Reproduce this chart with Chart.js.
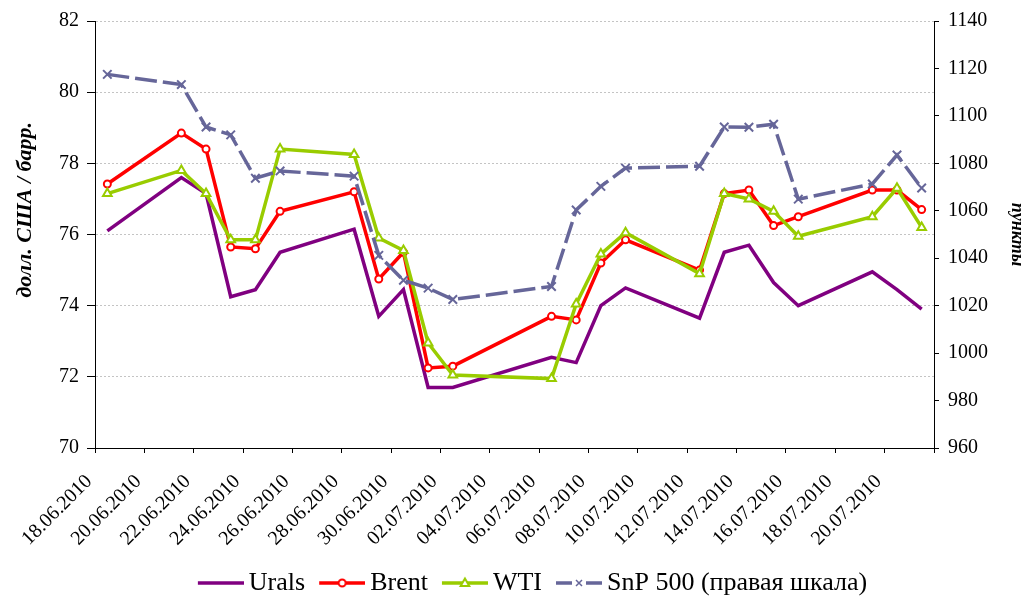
<!DOCTYPE html>
<html>
<head>
<meta charset="utf-8">
<title>Urals, Brent, WTI, SnP 500</title>
<script src="https://cdn.jsdelivr.net/npm/chart.js@4.4.1/dist/chart.umd.min.js"></script>
<style>
  body { margin: 0; background: #fff; }
  #wrap { width: 1025px; height: 597px; position: relative; }
</style>
</head>
<body>
<div id="wrap"><canvas id="oil-chart"></canvas></div>
<script>
// --- Data ---
const tradeDates = ['18.06.2010', '21.06.2010', '22.06.2010', '23.06.2010', '24.06.2010', '25.06.2010',
    '28.06.2010', '29.06.2010', '30.06.2010', '01.07.2010', '02.07.2010', '06.07.2010', '07.07.2010',
    '08.07.2010', '09.07.2010', '12.07.2010', '13.07.2010', '14.07.2010', '15.07.2010', '16.07.2010',
    '19.07.2010', '20.07.2010', '21.07.2010'];
const urals = [76.1, 77.6, 77.15, 74.25, 74.45, 75.5, 76.15, 73.7, 74.45, 71.7, 71.7, 72.55, 72.4,
    74.0, 74.5, 73.65, 75.5, 75.7, 74.65, 74.0, 74.95, 74.45, 73.9];
const brent = [77.42, 78.85, 78.4, 75.65, 75.6, 76.65, 77.2, 74.75, 75.5, 72.25, 72.3, 73.7, 73.6,
    75.2, 75.85, 75.0, 77.15, 77.25, 76.25, 76.5, 77.25, 77.25, 76.7];
const wti = [77.15, 77.8, 77.15, 75.85, 75.85, 78.4, 78.25, 75.9, 75.55, 72.95, 72.05, 71.95, 74.05,
    75.45, 76.05, 74.9, 77.15, 77.0, 76.65, 75.95, 76.5, 77.3, 76.2];
const snp = [1117.5, 1113.2, 1095.3, 1092.0, 1073.7, 1076.8, 1074.6, 1041.2, 1030.7, 1027.4, 1022.6,
    1028.1, 1060.3, 1070.3, 1078.0, 1078.8, 1095.3, 1095.2, 1096.5, 1064.9, 1071.3, 1083.5, 1069.6];
const tickLabels = ['18.06.2010', '20.06.2010', '22.06.2010', '24.06.2010', '26.06.2010', '28.06.2010',
    '30.06.2010', '02.07.2010', '04.07.2010', '06.07.2010', '08.07.2010', '10.07.2010', '12.07.2010',
    '14.07.2010', '16.07.2010', '18.07.2010', '20.07.2010'];

// --- Helpers ---
const FONT = '"Liberation Serif", "Times New Roman", serif';
const DAY_MS = 86400000;
function dayNumber(str) {
    const [d, m, y] = str.split('.').map(Number);
    return Date.UTC(y, m - 1, d) / DAY_MS;
}
// each day is one slot on the axis, points sit in the middle of the slot (like Excel date axis)
const firstDay = dayNumber(tickLabels[0]);
const xs = tradeDates.map(s => dayNumber(s) - firstDay + 0.5);
const xMax = Math.ceil(xs[xs.length - 1]);
const toPoints = vals => vals.map((v, i) => ({ x: xs[i], y: v }));

// legend swatch: line with the series marker; blank strip on the left keeps the line close to its text
function legendIcon(color, marker, gapAroundMarker) {
    const c = document.createElement('canvas');
    c.width = 60; c.height = 14;
    const g = c.getContext('2d');
    const x0 = 14, mid = 37;
    g.strokeStyle = color;
    g.lineWidth = 3.5;
    g.beginPath();
    if (gapAroundMarker) {
        g.moveTo(x0, 7); g.lineTo(mid - 7, 7);
        g.moveTo(mid + 7, 7); g.lineTo(60, 7);
    } else {
        g.moveTo(x0, 7); g.lineTo(60, 7);
    }
    g.stroke();
    g.lineWidth = 2;
    g.fillStyle = '#fff';
    if (marker === 'circle') {
        g.beginPath(); g.arc(mid, 7, 3.5, 0, Math.PI * 2); g.fill(); g.stroke();
    } else if (marker === 'triangle') {
        g.beginPath(); g.moveTo(mid, 2.5); g.lineTo(mid + 4.3, 10); g.lineTo(mid - 4.3, 10); g.closePath(); g.fill(); g.stroke();
    } else if (marker === 'cross') {
        g.lineWidth = 1.5;
        g.beginPath(); g.moveTo(mid - 3, 4); g.lineTo(mid + 3, 10); g.moveTo(mid + 3, 4); g.lineTo(mid - 3, 10); g.stroke();
    }
    return c;
}

// move the legend row to where the original has it (a bit lower and right of centre)
const legendNudge = {
    id: 'legendNudge',
    afterLayout(chart) {
        const lg = chart.legend;
        const dx = 17;
        const dy = 584 - (lg.top + lg.bottom) / 2;
        lg.left += dx; lg.right += dx;
        lg.top += dy; lg.bottom += dy;
    }
};

// --- Chart ---
Chart.defaults.font.family = FONT;
Chart.defaults.color = '#000';
Chart.defaults.animation = false;

const series = [
    { label: 'Urals', data: toPoints(urals), borderColor: '#800080', backgroundColor: '#800080',
      borderWidth: 3.5, pointRadius: 0, order: 4, yAxisID: 'y', icon: legendIcon('#800080', null) },
    { label: 'Brent', data: toPoints(brent), borderColor: '#ff0000', backgroundColor: '#fff',
      borderWidth: 3.5, pointStyle: 'circle', pointRadius: 3.5, pointBorderWidth: 2, order: 3, yAxisID: 'y',
      icon: legendIcon('#ff0000', 'circle') },
    { label: 'WTI', data: toPoints(wti), borderColor: '#99cc00', backgroundColor: '#fff',
      borderWidth: 3.5, pointStyle: 'triangle', pointRadius: 5, pointBorderWidth: 2, order: 2, yAxisID: 'y',
      icon: legendIcon('#99cc00', 'triangle') },
    { label: 'SnP 500 (правая шкала)', data: toPoints(snp), borderColor: '#666699', backgroundColor: '#666699',
      borderWidth: 3.5, borderDash: [22, 6], pointStyle: 'crossRot', pointRadius: 6, pointBorderWidth: 2,
      order: 1, yAxisID: 'y1', icon: legendIcon('#666699', 'cross', true) }
];

new Chart(document.getElementById('oil-chart'), {
    type: 'line',
    data: { datasets: series },
    plugins: [legendNudge],
    options: {
        responsive: true,
        maintainAspectRatio: false,
        layout: { padding: { top: 21, left: 0, right: 0, bottom: 0 } },
        elements: { line: { tension: 0 } },
        plugins: {
            tooltip: { enabled: false },
            legend: {
                position: 'bottom',
                labels: {
                    font: { family: FONT, size: 26 },
                    color: '#000',
                    usePointStyle: true,
                    pointStyleWidth: 44,
                    padding: 8,
                    generateLabels: chart => chart.data.datasets.map((ds, i) => ({
                        text: ds.label, pointStyle: ds.icon, fillStyle: ds.borderColor,
                        strokeStyle: ds.borderColor, lineWidth: 0, hidden: false, datasetIndex: i
                    }))
                }
            }
        },
        scales: {
            x: {
                type: 'linear',
                min: 0,
                max: xMax,
                afterFit: scale => { scale.height = 105; },
                grid: { drawOnChartArea: false, tickLength: 5, tickColor: '#000' },
                border: { color: '#000' },
                ticks: {
                    stepSize: 2, autoSkip: false, minRotation: 45, maxRotation: 45, padding: 17,
                    labelOffset: -6,
                    font: { family: FONT, size: 20 },
                    callback: v => tickLabels[v / 2] || ''
                }
            },
            y: {
                position: 'left',
                min: 70, max: 82,
                afterFit: scale => { scale.width = 95; },
                grid: {
                    color: ctx => ctx.tick && ctx.tick.value === 70 ? 'rgba(0,0,0,0)' : '#c4c4c4',
                    tickColor: '#000', tickLength: 8
                },
                border: { color: '#000', dash: [2, 2] },
                ticks: { stepSize: 2, padding: 8, font: { family: FONT, size: 20 } },
                title: {
                    display: true,
                    text: '         долл. США / барр.',
                    font: { family: FONT, size: 22, weight: 'bold', style: 'italic' },
                    padding: { top: 12, bottom: 0 }
                }
            },
            y1: {
                position: 'right',
                min: 960, max: 1140,
                afterFit: scale => { scale.width = 91; },
                grid: { drawOnChartArea: false, tickColor: '#000', tickLength: 5 },
                border: { color: '#000' },
                ticks: { stepSize: 20, padding: 9, font: { family: FONT, size: 20 }, callback: v => String(v) },
                title: {
                    display: true,
                    text: 'пункты',
                    font: { family: FONT, size: 18, weight: 'bold', style: 'italic', lineHeight: 1 },
                    padding: { top: -1, bottom: 0 }
                }
            }
        }
    }
});
</script>
</body>
</html>
